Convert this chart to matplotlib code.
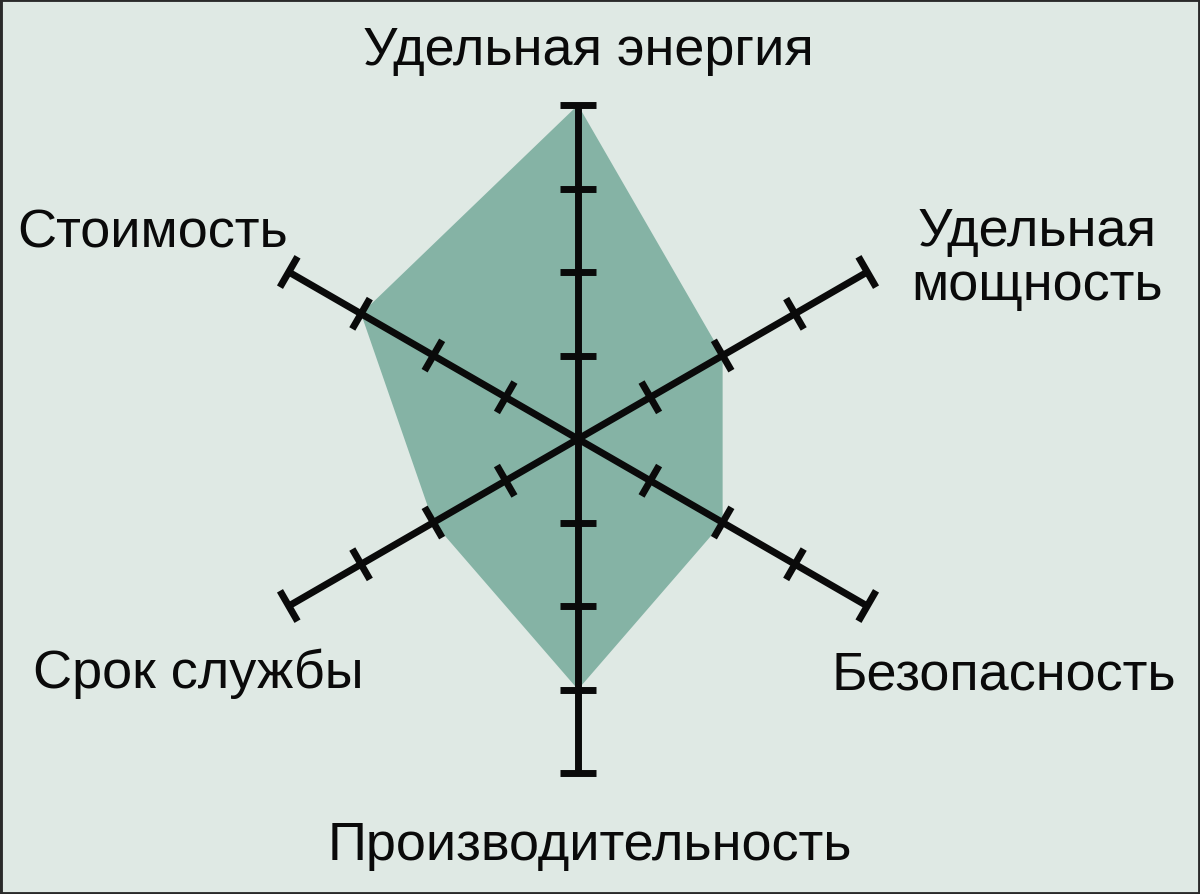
import numpy as np
import matplotlib
matplotlib.use("Agg")
import matplotlib.pyplot as plt
from matplotlib.patches import Rectangle

# ---- data ----
categories = ["Удельная энергия", "Удельная мощность", "Безопасность",
              "Производительность", "Срок службы", "Стоимость"]
angles_deg = [90, 30, -30, -90, 210, 150]
values = [4, 2, 2, 3, 2, 3]
scale_max = 4
tick_levels = [1, 2, 3, 4]

# label placement (data units) and text
label_pos = [(0.12, 4.49), (5.50, 1.68), (5.10, -2.99),
             (0.14, -5.03), (-4.55, -2.97), (-5.09, 2.30)]
label_text = ["Удельная энергия", "Удельная\nмощность", "Безопасность",
              "Производительность", "Срок службы", "Стоимость"]

BG = "#dfe9e4"
FILL = "#85b3a5"
INK = "#0a0a0a"

plt.rcParams['font.family'] = ['Liberation Sans', 'DejaVu Sans']

fig = plt.figure(figsize=(12, 8.95), dpi=100, facecolor=BG)
ax = fig.add_axes([0, 0, 1, 1])
ax.set_facecolor(BG)
px = 83.5
cx, cy = 578, 440
ax.set_xlim(-cx / px, (1200 - cx) / px)
ax.set_ylim(-(895 - cy) / px, cy / px)
ax.set_aspect('equal')
ax.axis('off')

th = np.radians(angles_deg)
vals = np.array(values, dtype=float)
xs = vals * np.cos(th)
ys = vals * np.sin(th)
ax.fill(np.append(xs, xs[0]), np.append(ys, ys[0]), color=FILL, lw=0, zorder=1)

half = 0.21
for a in th:
    ux, uy = np.cos(a), np.sin(a)
    ax.plot([0, scale_max * ux], [0, scale_max * uy], color=INK, lw=5.0,
            solid_capstyle='butt', zorder=3)
    nx, ny = -uy, ux
    for t in tick_levels:
        bx, by = t * ux, t * uy
        ax.plot([bx - half * nx, bx + half * nx], [by - half * ny, by + half * ny],
                color=INK, lw=5.0, solid_capstyle='butt', zorder=3)

for (lx, ly), txt in zip(label_pos, label_text):
    ax.text(lx, ly, txt, ha='center', va='baseline', fontsize=39,
            color=INK, linespacing=1.1, zorder=4)

fig.patches.append(Rectangle((0, 0), 1, 1, transform=fig.transFigure,
                             fill=False, edgecolor='#2a2a2a', lw=3.5))

fig.savefig("out.png", dpi=100, facecolor=BG)
